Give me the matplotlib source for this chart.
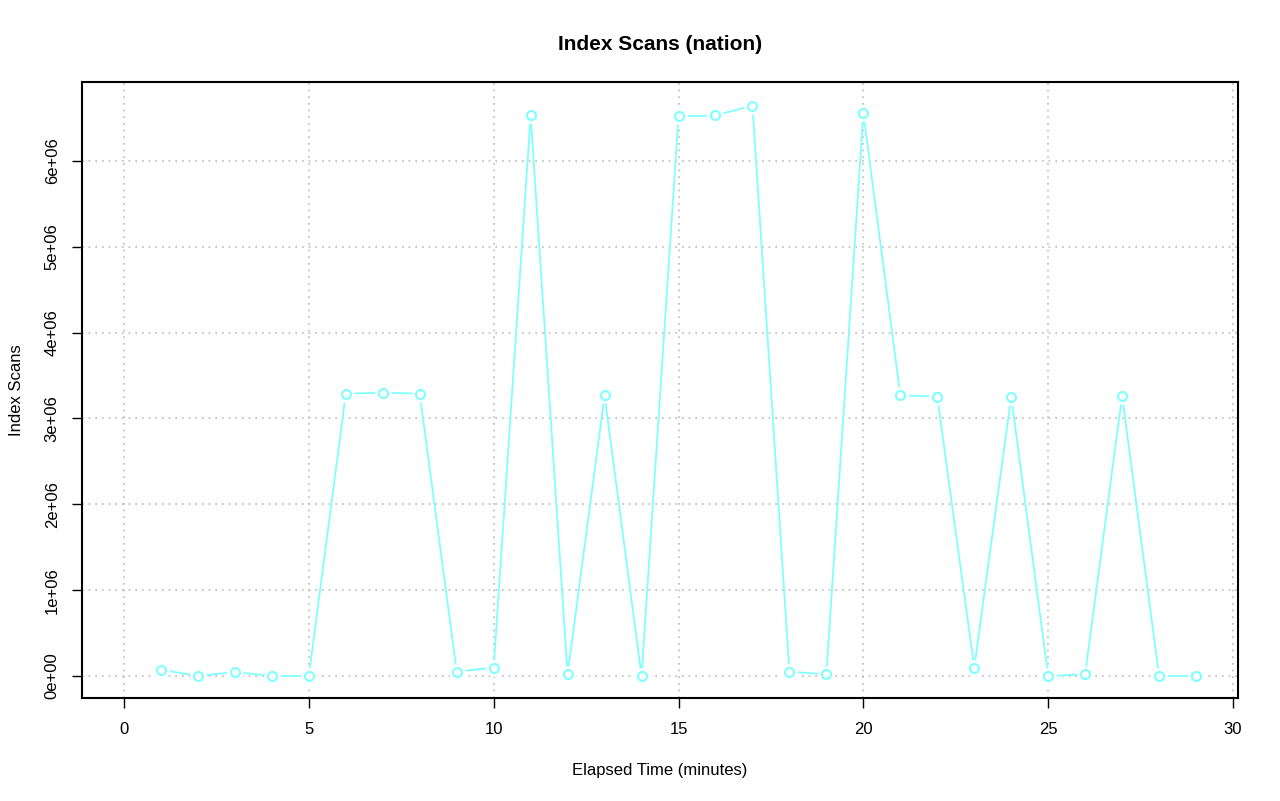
import matplotlib
matplotlib.use("Agg")
import matplotlib.pyplot as plt
import numpy as np

plt.rcParams['font.family'] = ['Liberation Sans', 'DejaVu Sans']

minutes = list(range(1, 30))
scans = [0.075e6, 0.0, 0.047e6, 0.0, 0.0,
         3.29e6, 3.30e6, 3.29e6, 0.05e6, 0.098e6,
         6.53e6, 0.02e6, 3.27e6, 0.0, 6.52e6,
         6.53e6, 6.645e6, 0.05e6, 0.02e6, 6.56e6,
         3.27e6, 3.255e6, 0.098e6, 3.255e6, 0.0,
         0.02e6, 3.265e6, 0.0, 0.0]
xticks = [0, 5, 10, 15, 20, 25, 30]
yticks = [0, 1e6, 2e6, 3e6, 4e6, 5e6, 6e6]
ytick_labels = ['0e+00', '1e+06', '2e+06', '3e+06', '4e+06', '5e+06', '6e+06']

col = '#80ffff'

fig = plt.figure(figsize=(12.8, 8.01), dpi=100)
ax = fig.add_axes([82/1280, 103/801, 1156/1280, 616/801])

ax.plot(minutes, scans, color=col, lw=1.3, zorder=3)
# gap round the points like R type="b"
ax.plot(minutes, scans, ls='none', marker='o', ms=11, mfc='white', mec='white', zorder=4)
ax.plot(minutes, scans, ls='none', marker='o', ms=6.5, mfc='white', mec=col, mew=1.5, zorder=5)

ax.set_xlim(-1.136, 30.135)
ax.set_ylim(-0.256e6, 6.92e6)
ax.set_xticks(xticks)
ax.set_yticks(yticks)
ax.set_yticklabels(ytick_labels, rotation=90, va='center')
ax.tick_params(labelsize=12, length=7, width=1)
ax.tick_params(axis='x', pad=10)
ax.tick_params(axis='y', pad=9)
ax.grid(True, color='#bbbbbb', ls=(0, (1, 3)), lw=1.2)
for s in ax.spines.values():
    s.set_linewidth(1.5)

ax.set_title('Index Scans (nation)', fontsize=15, fontweight='bold', pad=23)
ax.set_xlabel('Elapsed Time (minutes)', fontsize=12, labelpad=19)
ax.set_ylabel('Index Scans', fontsize=12, labelpad=15)

fig.savefig('out.png', dpi=100)
